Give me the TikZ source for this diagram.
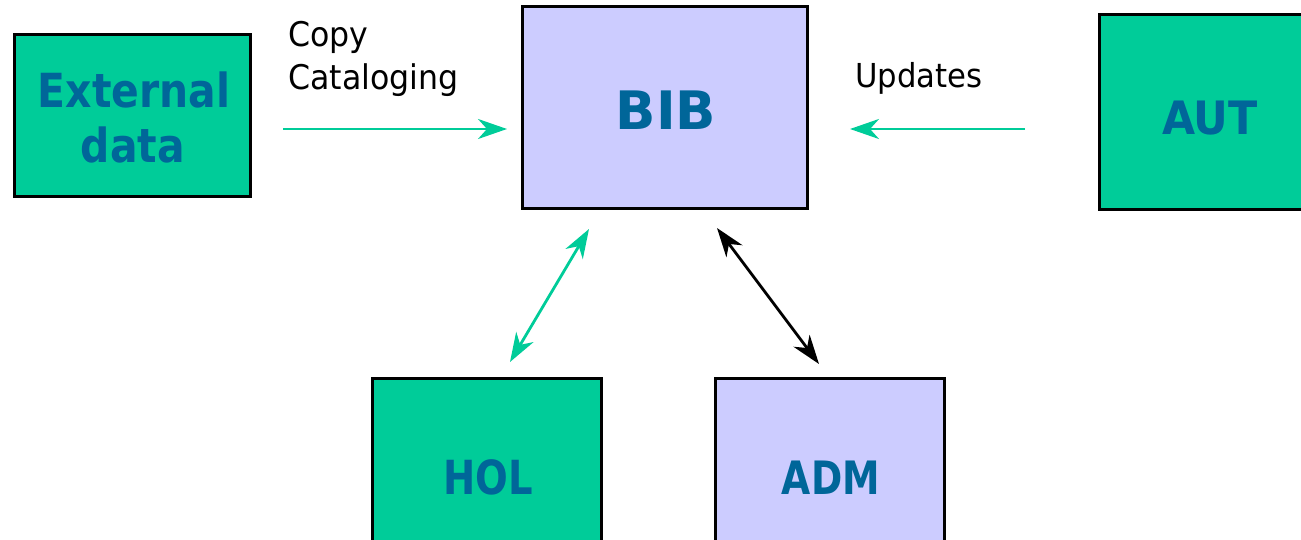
\documentclass[tikz,border=0pt]{standalone}
\usepackage{fontspec}
\newfontfamily\verd{DejaVu Sans}
\newfontfamily\tah[FakeStretch=0.93]{DejaVu Sans}
\newfontfamily\tahb[FakeStretch=0.82]{DejaVu Sans}
\newfontfamily\tahbw[FakeStretch=0.87]{DejaVu Sans}
\newfontfamily\tahbx[FakeStretch=0.93]{DejaVu Sans}
\usetikzlibrary{arrows.meta}
\definecolor{boxgreen}{HTML}{00CC99}
\definecolor{boxlav}{HTML}{CCCCFF}
\definecolor{txtblue}{HTML}{006699}
\definecolor{arrgreen}{HTML}{00CC99}
\tikzset{
  box/.style={draw=black, line width=3pt, rectangle, inner sep=0pt},
  gbox/.style={box, fill=boxgreen},
  lbox/.style={box, fill=boxlav},
  btxt/.style={anchor=base, text=txtblue, inner sep=0pt},
  ltxt/.style={anchor=base west, text=black, inner sep=0pt},
  tip/.style={-{Stealth[length=29pt,width=20pt,inset=9pt]}},
  dtip/.style={{Stealth[length=29pt,width=20pt,inset=9pt]}-{Stealth[length=29pt,width=20pt,inset=9pt]}},
  garrow/.style={draw=arrgreen, fill=arrgreen, line width=2.8pt},
  karrow/.style={draw=black, fill=black, line width=2.8pt}
}
\begin{document}
\begin{tikzpicture}[x=1pt,y=-1pt]
\useasboundingbox (0,0) rectangle (1301,540);
\clip (0,0) rectangle (1301,540);
% boxes
\node[gbox, minimum width=236pt, minimum height=162pt] (ext) at (132,116) {};
\node[lbox, minimum width=285pt, minimum height=202pt] (bib) at (664.5,108) {};
\node[gbox, minimum width=222pt, minimum height=195pt] (aut) at (1210,112.5) {};
\node[gbox, minimum width=229pt, minimum height=196pt] (hol) at (486.5,476) {};
\node[lbox, minimum width=229pt, minimum height=196pt] (adm) at (829.5,476) {};
% box texts
\node[btxt, font={\tahbw\bfseries\fontsize{47}{55}\selectfont}] (extA) at (134,108) {External};
\node[btxt, font={\tahbw\bfseries\fontsize{47}{55}\selectfont}] (extB) at (133,163) {data};
\node[btxt, font={\verd\bfseries\fontsize{53}{60}\selectfont}] (bibT) at (666,130) {BIB};
\node[btxt, font={\tahbx\bfseries\fontsize{46}{55}\selectfont}] (autT) at (1210,135) {AUT};
\node[btxt, font={\tahb\bfseries\fontsize{47}{55}\selectfont}] (holT) at (488,494) {HOL};
\node[btxt, font={\tahb\bfseries\fontsize{46}{55}\selectfont}] (admT) at (831,494) {ADM};
% labels
\node[ltxt, font={\tah\fontsize{34}{40}\selectfont}] (copy) at (288,47) {Copy};
\node[ltxt, font={\tah\fontsize{34}{40}\selectfont}] (catal) at (288,90) {Cataloging};
\node[ltxt, font={\tah\fontsize{33}{40}\selectfont}] (upd) at (855,88) {Updates};
% arrow end points
\coordinate (c1s) at (283,129);
\coordinate (c1e) at (507,129);
\coordinate (u1s) at (1025,129);
\coordinate (u1e) at (850,129);
\coordinate (h1s) at (510,362);
\coordinate (h1e) at (589,229);
\coordinate (a1s) at (717,228);
\coordinate (a1e) at (819,364);
% arrows
\draw[garrow, tip] (c1s) -- (c1e);
\draw[garrow, tip] (u1s) -- (u1e);
\draw[garrow, dtip] (h1s) -- (h1e);
\draw[karrow, dtip] (a1s) -- (a1e);
\end{tikzpicture}
\end{document}
